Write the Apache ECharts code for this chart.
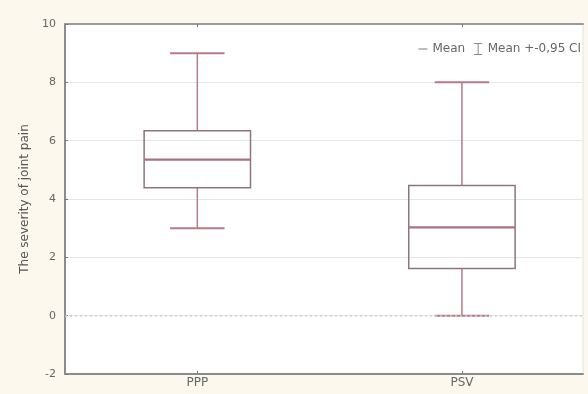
<!DOCTYPE html>
<html>
<head>
<meta charset="utf-8">
<script src="https://cdn.jsdelivr.net/npm/echarts@6/dist/echarts.min.js"></script>
<style>
html,body{margin:0;padding:0;background:#fcf8ed;}
#chart{width:588px;height:394px;}
</style>
</head>
<body>
<div id="chart"></div>
<script>
const categories = ['PPP', 'PSV'];
const whiskerLow = [3, 0];
const boxLow = [4.39, 1.62];
const meanValue = [5.35, 3.03];
const boxHigh = [6.34, 4.46];
const whiskerHigh = [9, 8];
const yTicks = [-2, 0, 2, 4, 6, 8, 10];

const rows = categories.map((c, i) => [i + 1, whiskerLow[i], boxLow[i], meanValue[i], boxHigh[i], whiskerHigh[i]]);

const boxColor = '#8e7482';
const whiskerColor = '#b77a88';
const font = 'DejaVu Sans';

const chart = echarts.init(document.getElementById('chart'));

function renderWhisker(params, api) {
  const x = api.value(0);
  const unit = api.size([1, 0])[0];
  const capHalf = unit * 0.103;
  const pMin = api.coord([x, api.value(1)]);
  const pLo = api.coord([x, api.value(2)]);
  const pHi = api.coord([x, api.value(4)]);
  const pMax = api.coord([x, api.value(5)]);
  const st = {stroke: whiskerColor, lineWidth: 1.5, fill: null};
  return {
    type: 'group',
    children: [
      {type: 'line', shape: {x1: pMax[0], y1: pMax[1], x2: pHi[0], y2: pHi[1]}, style: st},
      {type: 'line', shape: {x1: pLo[0], y1: pLo[1], x2: pMin[0], y2: pMin[1]}, style: st},
      {type: 'line', shape: {x1: pMax[0] - capHalf, y1: pMax[1], x2: pMax[0] + capHalf, y2: pMax[1]}, style: {stroke: whiskerColor, lineWidth: 2}},
      {type: 'line', shape: {x1: pMin[0] - capHalf, y1: pMin[1], x2: pMin[0] + capHalf, y2: pMin[1]}, style: {stroke: whiskerColor, lineWidth: 2}}
    ]
  };
}

function renderBox(params, api) {
  const x = api.value(0);
  const unit = api.size([1, 0])[0];
  const half = unit * 0.201;
  const pLo = api.coord([x, api.value(2)]);
  const pMed = api.coord([x, api.value(3)]);
  const pHi = api.coord([x, api.value(4)]);
  return {
    type: 'group',
    children: [
      {type: 'rect', shape: {x: pHi[0] - half, y: pHi[1], width: half * 2, height: pLo[1] - pHi[1]},
        style: {stroke: boxColor, lineWidth: 1.5, fill: 'rgba(255,255,255,0)'}},
      {type: 'line', shape: {x1: pMed[0] - half, y1: pMed[1], x2: pMed[0] + half, y2: pMed[1]},
        style: {stroke: '#a77282', lineWidth: 2.2}}
    ]
  };
}

const option = {
  backgroundColor: '#fcf8ed',
  animation: false,
  textStyle: {fontFamily: font},
  grid: {left: 65, right: 5, top: 24, bottom: 20, show: true, backgroundColor: '#ffffff', borderColor: '#e2e2e2', borderWidth: 1},
  legend: {
    right: 2, top: 38, itemGap: 9, itemWidth: 9, itemHeight: 12,
    textStyle: {fontFamily: font, fontSize: 12, color: '#666'},
    data: [
      {name: 'Mean', icon: 'path://M0,5h10v1.2h-10z', itemStyle: {color: '#888'}},
      {name: 'Mean +-0,95 CI', icon: 'path://M0,0h8v1h-3.5v10h3.5v1h-8v-1h3.5v-10h-3.5z', itemStyle: {color: '#888'}}
    ]
  },
  xAxis: [
    {
      type: 'value', min: 0.5, max: 2.4575, position: 'bottom',
      axisLine: {show: true, onZero: false, lineStyle: {color: '#8c8c8c', width: 2}},
      axisTick: {show: true, inside: true, length: 3, customValues: [1, 2], lineStyle: {color: '#777'}},
      axisLabel: {customValues: [1, 2], formatter: v => categories[Math.round(v) - 1] || '', color: '#666', fontSize: 12, margin: 3, fontFamily: font},
      splitLine: {show: false}
    },
    {
      type: 'value', min: 0.5, max: 2.4575, position: 'top',
      axisLine: {show: true, onZero: false, lineStyle: {color: '#9a9a9a', width: 2}},
      axisTick: {show: true, inside: true, length: 3, customValues: [1, 2], lineStyle: {color: '#777'}},
      axisLabel: {show: false},
      splitLine: {show: false}
    }
  ],
  yAxis: {
    type: 'value', min: -2, max: 10, interval: 2,
    name: 'The severity of joint pain', nameLocation: 'middle', nameGap: 33,
    nameTextStyle: {color: '#555', fontSize: 12, fontFamily: font},
    axisLine: {show: true, onZero: false, lineStyle: {color: '#8c8c8c', width: 2}},
    axisTick: {show: true, inside: true, length: 3, lineStyle: {color: '#777'}},
    axisLabel: {color: '#666', fontSize: 11, margin: 9, fontFamily: font,
      formatter: v => yTicks.includes(v) ? String(v) : ''},
    splitLine: {show: true, lineStyle: {color: '#e6e6e6', width: 1}}
  },
  series: [
    {
      name: 'Mean +-0,95 CI', type: 'custom', renderItem: renderWhisker,
      itemStyle: {color: '#888'}, data: rows, encode: {x: 0, y: [1, 5]}, z: 2,
      markLine: {silent: true, symbol: ['none', 'none'], label: {show: false},
        lineStyle: {color: '#cfcfcf', type: [2, 3], width: 1.5, opacity: 1},
        emphasis: {disabled: true},
        data: [{yAxis: 0, lineStyle: {color: '#cfcfcf', type: [2, 3], width: 1.5}}]}
    },
    {
      name: 'Mean', type: 'custom', renderItem: renderBox,
      itemStyle: {color: '#888'}, data: rows, encode: {x: 0, y: [2, 4]}, z: 3
    }
  ]
};
chart.setOption(option);
</script>
</body>
</html>
